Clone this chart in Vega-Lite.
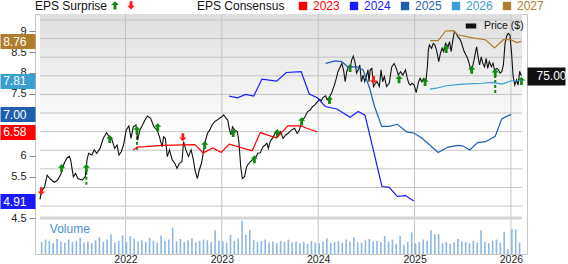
{
  "$schema": "https://vega.github.io/schema/vega-lite/v6.json",
  "width": 492,
  "height": 240,
  "autosize": {"type": "none"},
  "padding": {"left": 35, "top": 14, "right": 41, "bottom": 10},
  "background": "white",
  "config": {
    "font": "Liberation Sans",
    "view": {"stroke": "#c6c6c6", "strokeWidth": 1}
  },
  "resolve": {"scale": {"y": "independent"}, "axis": {"y": "independent"}},
  "layer": [
    {
      "layer": [
        {
          "data": {"values": [{"t": 2021.113, "p0": 91.6, "p1": 36.8}, {"t": 2026.115, "p0": 91.6, "p1": 36.8}]},
          "mark": {"type": "area", "line": false, "color": {"gradient": "linear", "x1": 1, "y1": 0, "x2": 1, "y2": 1, "stops": [{"offset": 0, "color": "#dedede"}, {"offset": 0.6, "color": "#ffffff"}, {"offset": 1, "color": "#ffffff"}]}},
          "encoding": {
            "x": {"field": "t", "type": "quantitative", "scale": {"domain": [2021.113, 2026.115], "nice": false, "zero": false},
                  "axis": {"values": [2022, 2023, 2024, 2025, 2026], "format": "d", "grid": false, "ticks": false, "domain": false, "labelFontSize": 10.5, "labelColor": "#222", "labelPadding": 0, "labelFlush": false, "title": null}},
            "y": {"field": "p0", "type": "quantitative", "scale": {"domain": [36.8, 91.6], "range": [204, 0], "nice": false, "zero": false},
                  "axis": {"orient": "right", "values": [40, 45, 50, 55, 60, 65, 70, 75, 80, 85, 90], "tickSize": 6, "tickColor": "#888888", "labelFontSize": 11, "labelColor": "#222", "labelPadding": 3, "domain": false, "grid": false, "title": null, "labelOverlap": false}},
            "y2": {"field": "p1"}
          }
        },
        {
          "data": {"values": [
            {"t":2021.113,"g":40},{"t":2026.115,"g":40},{"t":2021.113,"g":45},{"t":2026.115,"g":45},{"t":2021.113,"g":50},{"t":2026.115,"g":50},{"t":2021.113,"g":55},{"t":2026.115,"g":55},{"t":2021.113,"g":60},{"t":2026.115,"g":60},{"t":2021.113,"g":65},{"t":2026.115,"g":65},{"t":2021.113,"g":70},{"t":2026.115,"g":70},{"t":2021.113,"g":75},{"t":2026.115,"g":75},{"t":2021.113,"g":80},{"t":2026.115,"g":80},{"t":2021.113,"g":85},{"t":2026.115,"g":85},{"t":2021.113,"g":90},{"t":2026.115,"g":90}
          ]},
          "mark": {"type": "line", "color": "#c4c4c4", "strokeWidth": 1},
          "encoding": {
            "x": {"field": "t", "type": "quantitative", "scale": {"domain": [2021.113, 2026.115], "nice": false, "zero": false},
                  "axis": {"values": [2022, 2023, 2024, 2025, 2026], "format": "d", "grid": false, "ticks": false, "domain": false, "labelFontSize": 10.5, "labelColor": "#222", "labelPadding": 0, "labelFlush": false, "title": null}},
            "y": {"field": "g", "type": "quantitative", "scale": {"domain": [36.8, 91.6], "range": [204, 0], "nice": false, "zero": false}, "axis": null},
            "detail": {"field": "g", "type": "nominal"}
          }
        },
        {
          "data": {"values": [{"t": 2022}, {"t": 2023}, {"t": 2024}, {"t": 2025}, {"t": 2026}]},
          "mark": {"type": "rule", "color": "#c4c4c4", "strokeWidth": 1},
          "encoding": {
            "x": {"field": "t", "type": "quantitative", "scale": {"domain": [2021.113, 2026.115], "nice": false, "zero": false},
                  "axis": {"values": [2022, 2023, 2024, 2025, 2026], "format": "d", "grid": false, "ticks": false, "domain": false, "labelFontSize": 10.5, "labelColor": "#222", "labelPadding": 0, "labelFlush": false, "title": null}}
          }
        },
        {
          "data": {"values": [
            {"t":2021.594,"p":49.2,"p2":45.6},{"t":2022.119,"p":60.0,"p2":54.9},{"t":2025.837,"p":75.2,"p2":70.1}
          ]},
          "mark": {"type": "rule", "color": "#118a11", "strokeWidth": 2, "strokeDash": [3, 2]},
          "encoding": {
            "x": {"field": "t", "type": "quantitative", "scale": {"domain": [2021.113, 2026.115], "nice": false, "zero": false},
                  "axis": {"values": [2022, 2023, 2024, 2025, 2026], "format": "d", "grid": false, "ticks": false, "domain": false, "labelFontSize": 10.5, "labelColor": "#222", "labelPadding": 0, "labelFlush": false, "title": null}},
            "y": {"field": "p", "type": "quantitative", "scale": {"domain": [36.8, 91.6], "range": [204, 0], "nice": false, "zero": false}, "axis": null},
            "y2": {"field": "p2"}
          }
        },
        {
          "data": {"values": [
            {"t":2021.113,"p":41.8},{"t":2021.126,"p":43.9},{"t":2021.161,"p":45.2},{"t":2021.187,"p":48.3},{"t":2021.222,"p":47.2},{"t":2021.262,"p":46.4},{"t":2021.296,"p":47.0},{"t":2021.330,"p":48.6},{"t":2021.364,"p":51.5},{"t":2021.390,"p":52.8},{"t":2021.418,"p":53.4},{"t":2021.431,"p":52.4},{"t":2021.459,"p":47.9},{"t":2021.482,"p":48.8},{"t":2021.506,"p":47.4},{"t":2021.550,"p":47.0},{"t":2021.583,"p":47.9},{"t":2021.601,"p":52.4},{"t":2021.618,"p":54.2},{"t":2021.652,"p":53.7},{"t":2021.675,"p":55.1},{"t":2021.702,"p":54.2},{"t":2021.736,"p":55.5},{"t":2021.770,"p":58.2},{"t":2021.804,"p":59.7},{"t":2021.831,"p":58.6},{"t":2021.855,"p":58.2},{"t":2021.888,"p":55.5},{"t":2021.913,"p":56.4},{"t":2021.933,"p":53.7},{"t":2021.956,"p":54.6},{"t":2021.980,"p":56.4},
            {"t":2022.007,"p":60.4},{"t":2022.035,"p":61.5},{"t":2022.058,"p":58.2},{"t":2022.081,"p":61.3},{"t":2022.109,"p":61.8},{"t":2022.126,"p":57.7},{"t":2022.149,"p":60.4},{"t":2022.177,"p":61.8},{"t":2022.203,"p":63.1},{"t":2022.228,"p":64.2},{"t":2022.261,"p":63.6},{"t":2022.295,"p":61.3},{"t":2022.329,"p":60.4},{"t":2022.353,"p":58.6},{"t":2022.380,"p":55.9},{"t":2022.396,"p":58.6},{"t":2022.414,"p":58.2},{"t":2022.434,"p":53.3},{"t":2022.457,"p":55.1},{"t":2022.485,"p":52.4},{"t":2022.512,"p":51.5},{"t":2022.535,"p":50.1},{"t":2022.559,"p":51.5},{"t":2022.586,"p":51.9},{"t":2022.603,"p":57.3},{"t":2022.627,"p":55.1},{"t":2022.654,"p":53.3},{"t":2022.681,"p":55.1},{"t":2022.705,"p":52.4},{"t":2022.721,"p":49.7},{"t":2022.746,"p":47.4},{"t":2022.766,"p":49.7},{"t":2022.789,"p":51.5},{"t":2022.807,"p":54.2},{"t":2022.823,"p":56.9},{"t":2022.850,"p":59.5},{"t":2022.874,"p":60.4},{"t":2022.898,"p":61.8},{"t":2022.925,"p":62.7},{"t":2022.952,"p":63.1},{"t":2022.975,"p":63.6},
            {"t":2023.000,"p":64.0},{"t":2023.020,"p":64.5},{"t":2023.043,"p":63.6},{"t":2023.061,"p":63.1},{"t":2023.077,"p":60.9},{"t":2023.094,"p":59.1},{"t":2023.111,"p":61.3},{"t":2023.135,"p":60.4},{"t":2023.162,"p":60.0},{"t":2023.178,"p":56.9},{"t":2023.196,"p":50.6},{"t":2023.213,"p":47.4},{"t":2023.236,"p":47.9},{"t":2023.257,"p":50.6},{"t":2023.280,"p":51.5},{"t":2023.315,"p":52.4},{"t":2023.348,"p":52.8},{"t":2023.372,"p":54.2},{"t":2023.399,"p":54.3},{"t":2023.426,"p":55.9},{"t":2023.450,"p":56.4},{"t":2023.467,"p":56.9},{"t":2023.483,"p":55.5},{"t":2023.501,"p":57.3},{"t":2023.534,"p":58.6},{"t":2023.562,"p":60.0},{"t":2023.585,"p":59.1},{"t":2023.609,"p":60.0},{"t":2023.636,"p":58.2},{"t":2023.663,"p":59.1},{"t":2023.686,"p":59.5},{"t":2023.721,"p":60.4},{"t":2023.755,"p":60.9},{"t":2023.782,"p":59.5},{"t":2023.805,"p":60.4},{"t":2023.823,"p":62.2},{"t":2023.839,"p":63.1},{"t":2023.863,"p":64.0},{"t":2023.890,"p":65.4},{"t":2023.917,"p":65.8},{"t":2023.940,"p":66.7},{"t":2023.965,"p":67.2},{"t":2023.991,"p":68.0},
            {"t":2024.016,"p":68.7},{"t":2024.032,"p":68.3},{"t":2024.052,"p":69.2},{"t":2024.077,"p":69.6},{"t":2024.093,"p":68.5},{"t":2024.120,"p":69.4},{"t":2024.144,"p":70.7},{"t":2024.168,"p":72.5},{"t":2024.188,"p":74.3},{"t":2024.205,"p":76.1},{"t":2024.229,"p":77.4},{"t":2024.245,"p":78.3},{"t":2024.263,"p":76.6},{"t":2024.280,"p":73.4},{"t":2024.296,"p":76.1},{"t":2024.313,"p":77.4},{"t":2024.331,"p":77.0},{"t":2024.347,"p":79.2},{"t":2024.364,"p":80.3},{"t":2024.381,"p":78.8},{"t":2024.398,"p":75.7},{"t":2024.415,"p":76.6},{"t":2024.432,"p":77.9},{"t":2024.448,"p":73.4},{"t":2024.466,"p":75.2},{"t":2024.483,"p":73.4},{"t":2024.499,"p":74.8},{"t":2024.517,"p":76.6},{"t":2024.527,"p":73.4},{"t":2024.540,"p":76.6},{"t":2024.557,"p":77.0},{"t":2024.574,"p":72.1},{"t":2024.595,"p":73.0},{"t":2024.611,"p":73.4},{"t":2024.635,"p":72.1},{"t":2024.652,"p":76.6},{"t":2024.669,"p":73.4},{"t":2024.686,"p":74.8},{"t":2024.710,"p":72.1},{"t":2024.737,"p":73.0},{"t":2024.763,"p":77.4},{"t":2024.788,"p":78.3},{"t":2024.811,"p":77.0},{"t":2024.831,"p":75.2},{"t":2024.855,"p":76.1},{"t":2024.879,"p":75.2},{"t":2024.906,"p":76.6},{"t":2024.923,"p":74.5},{"t":2024.940,"p":73.0},{"t":2024.956,"p":72.5},{"t":2024.974,"p":73.0},{"t":2024.997,"p":72.5},
            {"t":2025.017,"p":70.5},{"t":2025.042,"p":73.4},{"t":2025.058,"p":74.3},{"t":2025.075,"p":73.4},{"t":2025.093,"p":74.3},{"t":2025.119,"p":73.9},{"t":2025.133,"p":77.4},{"t":2025.143,"p":81.9},{"t":2025.154,"p":83.3},{"t":2025.177,"p":82.4},{"t":2025.194,"p":83.7},{"t":2025.210,"p":83.3},{"t":2025.228,"p":81.9},{"t":2025.251,"p":78.8},{"t":2025.268,"p":81.0},{"t":2025.286,"p":82.4},{"t":2025.302,"p":81.5},{"t":2025.322,"p":83.7},{"t":2025.347,"p":82.8},{"t":2025.363,"p":84.2},{"t":2025.380,"p":81.5},{"t":2025.397,"p":84.6},{"t":2025.414,"p":86.9},{"t":2025.431,"p":86.4},{"t":2025.448,"p":85.5},{"t":2025.464,"p":85.1},{"t":2025.482,"p":84.2},{"t":2025.499,"p":82.8},{"t":2025.515,"p":81.5},{"t":2025.533,"p":80.6},{"t":2025.550,"p":79.7},{"t":2025.566,"p":78.4},{"t":2025.583,"p":76.6},{"t":2025.601,"p":77.4},{"t":2025.617,"p":79.2},{"t":2025.634,"p":81.5},{"t":2025.644,"p":82.8},{"t":2025.662,"p":79.7},{"t":2025.675,"p":77.9},{"t":2025.692,"p":80.1},{"t":2025.708,"p":78.4},{"t":2025.726,"p":77.4},{"t":2025.743,"p":79.7},{"t":2025.759,"p":77.0},{"t":2025.776,"p":78.8},{"t":2025.797,"p":77.4},{"t":2025.814,"p":78.4},{"t":2025.830,"p":76.6},{"t":2025.855,"p":77.0},{"t":2025.871,"p":76.6},{"t":2025.888,"p":75.7},{"t":2025.905,"p":76.1},{"t":2025.922,"p":77.9},{"t":2025.939,"p":83.7},{"t":2025.956,"p":85.7},{"t":2025.972,"p":86.4},{"t":2025.990,"p":85.9},
            {"t":2026.007,"p":81.0},{"t":2026.023,"p":74.8},{"t":2026.040,"p":72.5},{"t":2026.058,"p":73.9},{"t":2026.074,"p":72.5},{"t":2026.091,"p":76.2},{"t":2026.109,"p":75.0}
          ]},
          "mark": {"type": "line", "strokeWidth": 1.1},
          "encoding": {
            "x": {"field": "t", "type": "quantitative", "scale": {"domain": [2021.113, 2026.115], "nice": false, "zero": false},
                  "axis": {"values": [2022, 2023, 2024, 2025, 2026], "format": "d", "grid": false, "ticks": false, "domain": false, "labelFontSize": 10.5, "labelColor": "#222", "labelPadding": 0, "labelFlush": false, "title": null}},
            "y": {"field": "p", "type": "quantitative", "scale": {"domain": [36.8, 91.6], "range": [204, 0], "nice": false, "zero": false}, "axis": null},
            "stroke": {"datum": "Price ($)", "type": "nominal", "scale": {"domain": ["Price ($)"], "range": ["#111111"]},
                       "legend": {"title": null, "orient": "none", "legendX": 428, "legendY": 4, "symbolType": "stroke", "symbolStrokeWidth": 5, "symbolSize": 110, "labelFontSize": 10.5, "labelColor": "#111", "labelOffset": 5}}
          }
        },
        {
          "data": {"values": [
            {"t":2021.126,"p":44.0,"result":"miss"},{"t":2021.337,"p":50.2,"result":"beat"},{"t":2021.594,"p":50.2,"result":"beat"},{"t":2021.837,"p":58.0,"result":"beat"},{"t":2022.119,"p":60.4,"result":"beat"},{"t":2022.335,"p":61.2,"result":"beat"},{"t":2022.596,"p":58.5,"result":"miss"},{"t":2022.823,"p":56.4,"result":"beat"},{"t":2023.118,"p":59.6,"result":"beat"},{"t":2023.338,"p":52.6,"result":"beat"},{"t":2023.575,"p":59.6,"result":"beat"},{"t":2023.829,"p":62.8,"result":"beat"},{"t":2024.117,"p":68.5,"result":"beat"},{"t":2024.331,"p":77.1,"result":"beat"},{"t":2024.574,"p":73.9,"result":"miss"},{"t":2024.839,"p":74.1,"result":"beat"},{"t":2025.109,"p":73.3,"result":"beat"},{"t":2025.329,"p":82.2,"result":"beat"},{"t":2025.593,"p":76.6,"result":"beat"},{"t":2025.837,"p":75.8,"result":"beat"},{"t":2026.109,"p":73.6,"result":"beat"}
          ]},
          "mark": {"type": "point", "filled": true, "size": 64, "opacity": 1, "strokeWidth": 0},
          "encoding": {
            "x": {"field": "t", "type": "quantitative", "scale": {"domain": [2021.113, 2026.115], "nice": false, "zero": false},
                  "axis": {"values": [2022, 2023, 2024, 2025, 2026], "format": "d", "grid": false, "ticks": false, "domain": false, "labelFontSize": 10.5, "labelColor": "#222", "labelPadding": 0, "labelFlush": false, "title": null}},
            "y": {"field": "p", "type": "quantitative", "scale": {"domain": [36.8, 91.6], "range": [204, 0], "nice": false, "zero": false}, "axis": null},
            "shape": {"field": "result", "type": "nominal",
                      "scale": {"domain": ["beat", "miss"], "range": ["M0,-1L0.9,-0.1L0.35,-0.1L0.35,1L-0.35,1L-0.35,-0.1L-0.9,-0.1Z", "M0,1L0.9,0.1L0.35,0.1L0.35,-1L-0.35,-1L-0.35,0.1L-0.9,0.1Z"]},
                      "legend": {"title": "EPS Surprise", "orient": "none", "legendX": 0, "legendY": -14, "direction": "horizontal", "titleOrient": "left", "titleFontSize": 12, "titleFontWeight": "normal", "titleColor": "#111", "titlePadding": 2, "labelExpr": "''", "labelOffset": 0, "columnPadding": 2, "symbolSize": 70,
                                 "encode": {"symbols": {"update": {"fill": {"scale": "fill", "field": "value"}, "strokeWidth": {"value": 0}}}}}},
            "fill": {"field": "result", "type": "nominal", "scale": {"domain": ["beat", "miss"], "range": ["#118a11", "#ff1a1a"]}, "legend": null}
          }
        }
      ]
    },
    {
      "data": {"values": [
        {"t":2021.13,"v":20},{"t":2021.17,"v":24},{"t":2021.21,"v":22},{"t":2021.25,"v":18},{"t":2021.29,"v":26},{"t":2021.33,"v":21},{"t":2021.37,"v":19},{"t":2021.41,"v":24},{"t":2021.45,"v":20},
        {"t":2021.49,"v":22},{"t":2021.53,"v":27},{"t":2021.57,"v":19},{"t":2021.61,"v":21},{"t":2021.65,"v":18},{"t":2021.69,"v":23},{"t":2021.73,"v":28},{"t":2021.77,"v":20},
        {"t":2021.81,"v":24},{"t":2021.85,"v":33},{"t":2021.89,"v":19},{"t":2021.93,"v":22},{"t":2021.97,"v":31},{"t":2022.01,"v":20},
        {"t":2022.05,"v":30},{"t":2022.09,"v":26},{"t":2022.13,"v":21},{"t":2022.17,"v":23},{"t":2022.21,"v":20},{"t":2022.25,"v":27},{"t":2022.29,"v":22},{"t":2022.33,"v":19},{"t":2022.37,"v":31},
        {"t":2022.41,"v":22},{"t":2022.45,"v":24},{"t":2022.49,"v":44},{"t":2022.53,"v":21},{"t":2022.57,"v":25},{"t":2022.61,"v":20},{"t":2022.65,"v":23},{"t":2022.69,"v":26},{"t":2022.73,"v":19},{"t":2022.77,"v":22},{"t":2022.81,"v":24},
        {"t":2022.85,"v":23},{"t":2022.89,"v":20},{"t":2022.93,"v":39},{"t":2022.97,"v":22},{"t":2023.01,"v":21},
        {"t":2023.05,"v":19},{"t":2023.09,"v":32},{"t":2023.13,"v":22},{"t":2023.17,"v":26},{"t":2023.21,"v":56},{"t":2023.25,"v":32},{"t":2023.29,"v":40},
        {"t":2023.33,"v":23},{"t":2023.37,"v":20},{"t":2023.41,"v":22},{"t":2023.45,"v":24},{"t":2023.49,"v":19},{"t":2023.53,"v":21},{"t":2023.57,"v":18},{"t":2023.61,"v":22},{"t":2023.65,"v":20},{"t":2023.69,"v":24},{"t":2023.73,"v":19},{"t":2023.77,"v":21},
        {"t":2023.81,"v":18},{"t":2023.85,"v":20},{"t":2023.89,"v":17},{"t":2023.93,"v":22},{"t":2023.97,"v":19},{"t":2024.01,"v":18},{"t":2024.05,"v":21},{"t":2024.09,"v":26},{"t":2024.13,"v":18},
        {"t":2024.17,"v":20},{"t":2024.21,"v":22},{"t":2024.25,"v":19},{"t":2024.29,"v":24},{"t":2024.33,"v":21},{"t":2024.37,"v":28},{"t":2024.41,"v":20},{"t":2024.45,"v":19},{"t":2024.49,"v":23},{"t":2024.53,"v":25},{"t":2024.57,"v":21},{"t":2024.61,"v":22},{"t":2024.65,"v":20},{"t":2024.69,"v":30},{"t":2024.73,"v":21},{"t":2024.77,"v":24},
        {"t":2024.81,"v":17},{"t":2024.85,"v":30},{"t":2024.89,"v":16},{"t":2024.93,"v":20},{"t":2024.97,"v":36},
        {"t":2025.01,"v":18},{"t":2025.05,"v":20},{"t":2025.09,"v":24},{"t":2025.13,"v":22},{"t":2025.17,"v":39},{"t":2025.21,"v":33},{"t":2025.25,"v":33},
        {"t":2025.29,"v":18},{"t":2025.33,"v":20},{"t":2025.37,"v":17},{"t":2025.41,"v":19},{"t":2025.45,"v":25},{"t":2025.49,"v":21},{"t":2025.53,"v":20},{"t":2025.57,"v":18},{"t":2025.61,"v":22},{"t":2025.65,"v":19},{"t":2025.69,"v":39},
        {"t":2025.73,"v":20},{"t":2025.77,"v":18},{"t":2025.81,"v":22},{"t":2025.85,"v":24},{"t":2025.89,"v":19},{"t":2025.93,"v":37},{"t":2025.97,"v":8},{"t":2026.01,"v":41},{"t":2026.05,"v":41},{"t":2026.09,"v":19}
      ]},
      "layer": [
        {
          "mark": {"type": "bar", "width": 1.6, "color": "#8cb8e0"},
          "encoding": {
            "x": {"field": "t", "type": "quantitative", "scale": {"domain": [2021.113, 2026.115], "nice": false, "zero": false},
                  "axis": {"values": [2022, 2023, 2024, 2025, 2026], "format": "d", "grid": false, "ticks": false, "domain": false, "labelFontSize": 10.5, "labelColor": "#222", "labelPadding": 0, "labelFlush": false, "title": null}},
            "y": {"field": "v", "type": "quantitative", "scale": {"domain": [0, 60], "range": [240, 204], "nice": false, "zero": true},
                  "axis": {"orient": "right", "values": [0, 10, 20, 30, 40, 50, 60], "labelExpr": "datum.value == 0 ? '0' : datum.value + 'k'", "tickSize": 6, "tickColor": "#888888", "labelFontSize": 10.5, "labelColor": "#222", "labelPadding": 3, "domain": false, "grid": false, "title": null, "labelOverlap": false}}
          }
        },
        {
          "data": {"values": [{"t": 2021.113, "v": 60}, {"t": 2026.115, "v": 60}]},
          "mark": {"type": "line", "color": "#d6d6d6", "strokeWidth": 3},
          "encoding": {
            "x": {"field": "t", "type": "quantitative"},
            "y": {"field": "v", "type": "quantitative", "axis": null}
          }
        },
        {
          "data": {"values": [{}]},
          "mark": {"type": "text", "text": "Volume", "align": "left", "baseline": "middle", "fontSize": 12, "color": "#4a90d0"},
          "encoding": {
            "x": {"datum": 2021.215, "type": "quantitative"},
            "y": {"datum": 41, "type": "quantitative", "axis": null}
          }
        }
      ]
    },
    {
      "data": {"values": [
        {"t":2022.081,"e":6.14,"year":"2023"},{"t":2022.126,"e":6.21,"year":"2023"},{"t":2022.210,"e":6.22,"year":"2023"},{"t":2022.383,"e":6.25,"year":"2023"},{"t":2022.721,"e":6.27,"year":"2023"},{"t":2022.807,"e":6.07,"year":"2023"},{"t":2022.908,"e":6.19,"year":"2023"},{"t":2022.993,"e":6.08,"year":"2023"},{"t":2023.077,"e":6.28,"year":"2023"},{"t":2023.315,"e":6.12,"year":"2023"},{"t":2023.399,"e":6.56,"year":"2023"},{"t":2023.569,"e":6.43,"year":"2023"},{"t":2023.686,"e":6.72,"year":"2023"},{"t":2023.823,"e":6.72,"year":"2023"},{"t":2023.873,"e":6.67,"year":"2023"},{"t":2023.991,"e":6.58,"year":"2023"},
        {"t":2023.077,"e":7.44,"year":"2024"},{"t":2023.162,"e":7.40,"year":"2024"},{"t":2023.247,"e":7.48,"year":"2024"},{"t":2023.331,"e":7.44,"year":"2024"},{"t":2023.416,"e":7.85,"year":"2024"},{"t":2023.569,"e":7.80,"year":"2024"},{"t":2023.668,"e":8.01,"year":"2024"},{"t":2023.823,"e":8.03,"year":"2024"},{"t":2023.907,"e":7.49,"year":"2024"},{"t":2023.991,"e":7.40,"year":"2024"},{"t":2024.074,"e":7.19,"year":"2024"},{"t":2024.194,"e":7.13,"year":"2024"},{"t":2024.331,"e":6.93,"year":"2024"},{"t":2024.415,"e":7.07,"year":"2024"},{"t":2024.486,"e":6.98,"year":"2024"},{"t":2024.662,"e":5.26,"year":"2024"},{"t":2024.737,"e":5.24,"year":"2024"},{"t":2024.821,"e":5.02,"year":"2024"},{"t":2024.906,"e":5.04,"year":"2024"},{"t":2024.991,"e":4.91,"year":"2024"},
        {"t":2024.077,"e":8.23,"year":"2025"},{"t":2024.178,"e":8.29,"year":"2025"},{"t":2024.245,"e":8.27,"year":"2025"},{"t":2024.313,"e":8.13,"year":"2025"},{"t":2024.398,"e":8.15,"year":"2025"},{"t":2024.466,"e":8.07,"year":"2025"},{"t":2024.534,"e":7.63,"year":"2025"},{"t":2024.585,"e":7.19,"year":"2025"},{"t":2024.659,"e":6.71,"year":"2025"},{"t":2024.737,"e":6.71,"year":"2025"},{"t":2024.821,"e":6.76,"year":"2025"},{"t":2024.923,"e":6.57,"year":"2025"},{"t":2024.991,"e":6.55,"year":"2025"},{"t":2025.075,"e":6.43,"year":"2025"},{"t":2025.245,"e":6.08,"year":"2025"},{"t":2025.347,"e":6.21,"year":"2025"},{"t":2025.448,"e":6.25,"year":"2025"},{"t":2025.499,"e":6.24,"year":"2025"},{"t":2025.573,"e":6.14,"year":"2025"},{"t":2025.654,"e":6.32,"year":"2025"},{"t":2025.736,"e":6.34,"year":"2025"},{"t":2025.837,"e":6.47,"year":"2025"},{"t":2025.905,"e":6.89,"year":"2025"},{"t":2025.956,"e":6.95,"year":"2025"},{"t":2026.003,"e":7.00,"year":"2025"},
        {"t":2025.160,"e":7.61,"year":"2026"},{"t":2025.228,"e":7.63,"year":"2026"},{"t":2025.329,"e":7.69,"year":"2026"},{"t":2025.499,"e":7.73,"year":"2026"},{"t":2025.702,"e":7.75,"year":"2026"},{"t":2025.804,"e":7.77,"year":"2026"},{"t":2025.905,"e":7.73,"year":"2026"},{"t":2026.007,"e":7.81,"year":"2026"},{"t":2026.109,"e":7.81,"year":"2026"},
        {"t":2025.160,"e":8.78,"year":"2027"},{"t":2025.245,"e":8.78,"year":"2027"},{"t":2025.322,"e":9.01,"year":"2027"},{"t":2025.397,"e":9.02,"year":"2027"},{"t":2025.448,"e":8.92,"year":"2027"},{"t":2025.617,"e":8.84,"year":"2027"},{"t":2025.736,"e":8.80,"year":"2027"},{"t":2025.830,"e":8.60,"year":"2027"},{"t":2025.922,"e":8.80,"year":"2027"},{"t":2026.000,"e":8.80,"year":"2027"},{"t":2026.058,"e":8.73,"year":"2027"},{"t":2026.109,"e":8.76,"year":"2027"}
      ]},
      "mark": {"type": "line", "strokeWidth": 1.2},
      "encoding": {
        "x": {"field": "t", "type": "quantitative", "scale": {"domain": [2021.113, 2026.115], "nice": false, "zero": false},
              "axis": {"values": [2022, 2023, 2024, 2025, 2026], "format": "d", "grid": false, "ticks": false, "domain": false, "labelFontSize": 10.5, "labelColor": "#222", "labelPadding": 0, "labelFlush": false, "title": null}},
        "y": {"field": "e", "type": "quantitative", "scale": {"domain": [4.5, 9.42], "range": [204, 0], "nice": false, "zero": false},
              "axis": {"orient": "left", "values": [4.5, 5.5, 6, 7.5, 8, 8.5, 9], "format": "~g", "tickSize": 6, "tickColor": "#888888", "labelFontSize": 11, "labelColor": "#222", "labelPadding": 3, "domain": false, "grid": false, "title": null, "labelOverlap": false}},
        "color": {"field": "year", "type": "nominal",
                  "scale": {"domain": ["2023", "2024", "2025", "2026", "2027"], "range": ["#ff0000", "#1a1aff", "#1f5fae", "#3a9fd0", "#b07d2e"]},
                  "legend": {"title": "EPS Consensus", "orient": "none", "legendX": 162, "legendY": -14, "direction": "horizontal", "titleOrient": "left", "titleFontSize": 12, "titleFontWeight": "normal", "titleColor": "#111", "titlePadding": 12, "symbolType": "square", "symbolSize": 70, "labelFontSize": 12, "labelOffset": 4, "columnPadding": 8,
                             "encode": {"labels": {"update": {"fill": {"scale": "color", "field": "value"}}}, "symbols": {"update": {"fill": {"scale": "color", "field": "value"}, "strokeWidth": {"value": 0}}}}}}
      }
    },
    {
      "data": {"values": [{"e": 8.76}, {"e": 7.81}, {"e": 7.0}, {"e": 6.58}, {"e": 4.91}]},
      "mark": {"type": "point", "opacity": 0},
      "encoding": {
        "y": {"field": "e", "type": "quantitative", "scale": {"domain": [4.5, 9.42], "range": [204, 0], "nice": false, "zero": false},
              "axis": {"orient": "left", "values": [8.76, 7.81, 7.0, 6.58, 4.91], "format": ".2f", "tickSize": 35, "tickWidth": 15,
                       "tickColor": {"condition": [{"test": "datum.value == 8.76", "value": "#b07d2e"}, {"test": "datum.value == 7.81", "value": "#3a9fd0"}, {"test": "datum.value == 7", "value": "#1f5fae"}, {"test": "datum.value == 6.58", "value": "#ff0000"}], "value": "#1a1aff"},
                       "labelColor": "#ffffff", "labelFontSize": 12, "labelPadding": -26, "domain": false, "grid": false, "title": null, "labelOverlap": false}}
      }
    },
    {
      "data": {"values": [{"p": 75.0}]},
      "mark": {"type": "point", "opacity": 0},
      "encoding": {
        "y": {"field": "p", "type": "quantitative", "scale": {"domain": [36.8, 91.6], "range": [204, 0], "nice": false, "zero": false},
              "axis": {"orient": "right", "values": [75], "format": ".2f", "tickSize": 38, "tickWidth": 18, "tickColor": "#111111", "labelColor": "#ffffff", "labelFontSize": 12, "labelPadding": -29, "domain": false, "grid": false, "title": null, "labelOverlap": false}}
      }
    }
  ]
}
